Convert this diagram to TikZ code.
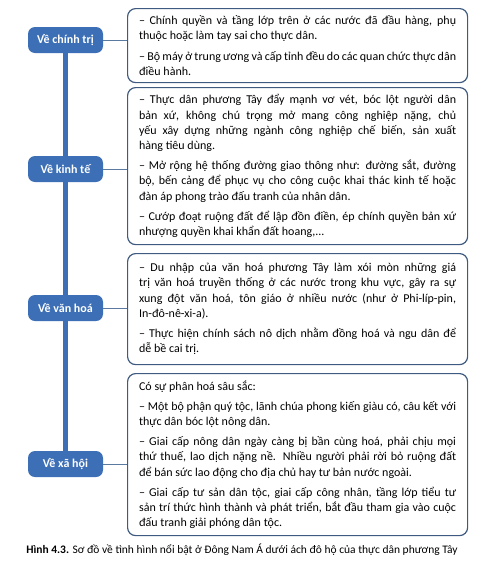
\documentclass[tikz,border=0pt]{standalone}
\usepackage{fontspec}
\setmainfont{Carlito}
\usetikzlibrary{positioning,backgrounds}

\definecolor{topicblue}{HTML}{3C6FB6}
\definecolor{boxline}{HTML}{3E5A80}
\definecolor{linkline}{HTML}{5A7AA0}

\hyphenpenalty=10000
\tolerance=9999

\begin{document}
\begin{tikzpicture}[x=1pt, y=-1pt,
    topic/.style={fill=topicblue, rounded corners=7pt, minimum width=75pt,
        minimum height=26pt, inner sep=0pt, text=white,
        font=\fontsize{12}{14}\selectfont\bfseries},
    note/.style={draw=boxline, line width=1.2pt, rounded corners=8pt,
        anchor=north west, text width=317pt, minimum width=340pt,
        inner xsep=11.5pt, inner ysep=3pt, align=justify,
        font=\fontsize{12}{15.2}\selectfont},
    link/.style={draw=linkline, line width=1pt},
    spine/.style={draw=topicblue, line width=5pt}
]
    \def\gap{\par\vspace{5pt}}
    \def\bx{127}

    \useasboundingbox (0,0) rectangle (484,563);

    % Topics on the left
    \node [topic] (politics) at (65.5, 40)  {Về chính trị};
    \node [topic] (economy)  at (65.5, 169) {Về kinh tế};
    \node [topic] (culture)  at (65.5, 308) {Về văn hoá};
    \node [topic] (society)  at (65.5, 464) {Về xã hội};

    % Contents on the right
    \node [note, minimum height=74pt] (politicsnote) at (\bx, 8) {%
        – Chính quyền và tầng lớp trên ở các nước đã đầu hàng, phụ\linebreak
        thuộc hoặc làm tay sai cho thực dân.\gap
        – Bộ máy ở trung ương và cấp tỉnh đều do các quan chức thực dân\linebreak
        điều hành.};
    \node [note, minimum height=157pt] (economynote) at (\bx, 87) {%
        – Thực dân phương Tây đẩy mạnh vơ vét, bóc lột người dân\linebreak
        bản xứ, không chú trọng mở mang công nghiệp nặng, chủ\linebreak
        yếu xây dựng những ngành công nghiệp chế biến, sản xuất\linebreak
        hàng tiêu dùng.\gap
        – Mở rộng hệ thống đường giao thông như: đường sắt, đường\linebreak
        bộ, bến cảng để phục vụ cho công cuộc khai thác kinh tế hoặc\linebreak
        đàn áp phong trào đấu tranh của nhân dân.\gap
        – Cướp đoạt ruộng đất để lập đồn điền, ép chính quyền bản xứ\linebreak
        nhượng quyền khai khẩn đất hoang,...};
    \node [note, minimum height=111pt] (culturenote) at (\bx, 253) {%
        – Du nhập của văn hoá phương Tây làm xói mòn những giá\linebreak
        trị văn hoá truyền thống ở các nước trong khu vực, gây ra sự\linebreak
        xung đột văn hoá, tôn giáo ở nhiều nước (như ở Phi-líp-pin,\linebreak
        In-đô-nê-xi-a).\gap
        – Thực hiện chính sách nô dịch nhằm đồng hoá và ngu dân để\linebreak
        dễ bề cai trị.};
    \node [note, minimum height=162pt] (societynote) at (\bx, 373) {%
        Có sự phân hoá sâu sắc:\gap
        – Một bộ phận quý tộc, lãnh chúa phong kiến giàu có, câu kết với\linebreak
        thực dân bóc lột nông dân.\gap
        – Giai cấp nông dân ngày càng bị bần cùng hoá, phải chịu mọi\linebreak
        thứ thuế, lao dịch nặng nề. Nhiều người phải rời bỏ ruộng đất\linebreak
        để bán sức lao động cho địa chủ hay tư bản nước ngoài.\gap
        – Giai cấp tư sản dân tộc, giai cấp công nhân, tầng lớp tiểu tư\linebreak
        sản trí thức hình thành và phát triển, bắt đầu tham gia vào cuộc\linebreak
        đấu tranh giải phóng dân tộc.};

    % Spine and links
    \begin{scope}[on background layer]
        \draw [spine] (politics.south) -- (society.north);
    \end{scope}
    \foreach \t in {politics, economy, culture, society}{
        \draw [link] (\t.east) -- (\t.east -| \t note.west);
    }

    % Caption
    \node [font=\fontsize{11.5}{13}\selectfont] (caption) at (242, 550)
        {\textbf{Hình 4.3.} Sơ đồ về tình hình nổi bật ở Đông Nam Á dưới ách đô hộ của thực dân phương Tây};
\end{tikzpicture}
\end{document}
